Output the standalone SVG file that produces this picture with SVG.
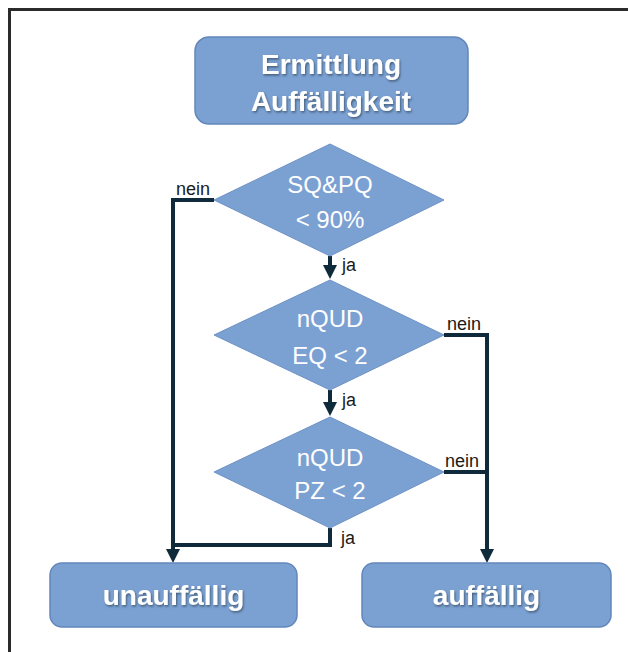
<svg xmlns="http://www.w3.org/2000/svg" width="628" height="652" viewBox="0 0 628 652">
<style>
.box{fill:#7ba1d3;stroke:#6386bb;stroke-width:1.5}
.dia{fill:#7ba1d3;stroke:#6e92c6;stroke-width:1}
.bt{font-family:"Liberation Sans",Arial,sans-serif;font-weight:bold;font-size:28px;fill:#ffffff;text-anchor:middle;filter:url(#sh)}
.dt{font-family:"Liberation Sans",Arial,sans-serif;font-size:24px;fill:#ffffff;text-anchor:middle}
.lbl{font-family:"Liberation Sans",Arial,sans-serif;font-size:18px;fill:#1a1a1a}
.ln{fill:none;stroke:#0f2a3b;stroke-width:4;stroke-linejoin:miter}
.ah{fill:#0f2a3b}
</style>
<defs>
<filter id="sh" x="-10%" y="-20%" width="120%" height="150%">
<feDropShadow dx="1" dy="1.5" stdDeviation="1" flood-color="#2a3a50" flood-opacity="0.7"/>
</filter>
</defs>
<rect x="0" y="0" width="628" height="652" fill="#ffffff"/>
<path d="M9.5,652 V9.5 H628" fill="none" stroke="#2b2b2b" stroke-width="3"/>

<g id="connectors">
<path class="ln" d="M214,200 H173 V550"/>
<polygon class="ah" points="166,549 180,549 173,563"/>
<path class="ln" d="M330,256 V266"/>
<polygon class="ah" points="323,265 337,265 330,279"/>
<path class="ln" d="M444,335 H487 V550"/>
<polygon class="ah" points="480,549 494,549 487,563"/>
<path class="ln" d="M330,390 V403"/>
<polygon class="ah" points="323,402 337,402 330,416"/>
<path class="ln" d="M444,472 H487"/>
<path class="ln" d="M330,528 V545 H173"/>
<text class="lbl" x="210" y="195" text-anchor="end">nein</text>
<text class="lbl" x="342" y="271">ja</text>
<text class="lbl" x="447" y="330">nein</text>
<text class="lbl" x="342" y="406">ja</text>
<text class="lbl" x="445" y="467">nein</text>
<text class="lbl" x="341" y="544">ja</text>
</g>

<g id="start">
<rect class="box" x="195" y="37" width="273" height="87" rx="14"/>
<text class="bt" x="331" y="74">Ermittlung</text>
<text class="bt" x="331" y="111">Auffälligkeit</text>
</g>

<g id="d1">
<polygon class="dia" points="330,144 444,200 330,256 214,200"/>
<text class="dt" x="330" y="193">SQ&amp;PQ</text>
<text class="dt" x="330" y="228">&lt; 90%</text>
</g>

<g id="d2">
<polygon class="dia" points="330,280 444,335 330,390 214,335"/>
<text class="dt" x="330" y="327">nQUD</text>
<text class="dt" x="330" y="364">EQ &lt; 2</text>
</g>

<g id="d3">
<polygon class="dia" points="330,417 444,472 330,528 214,472"/>
<text class="dt" x="330" y="466">nQUD</text>
<text class="dt" x="330" y="499">PZ &lt; 2</text>
</g>

<g id="unauffaellig">
<rect class="box" x="50" y="563" width="247" height="64" rx="12"/>
<text class="bt" x="173.5" y="605">unauffällig</text>
</g>

<g id="auffaellig">
<rect class="box" x="362" y="563" width="249" height="64" rx="12"/>
<text class="bt" x="486.5" y="605">auffällig</text>
</g>
</svg>
